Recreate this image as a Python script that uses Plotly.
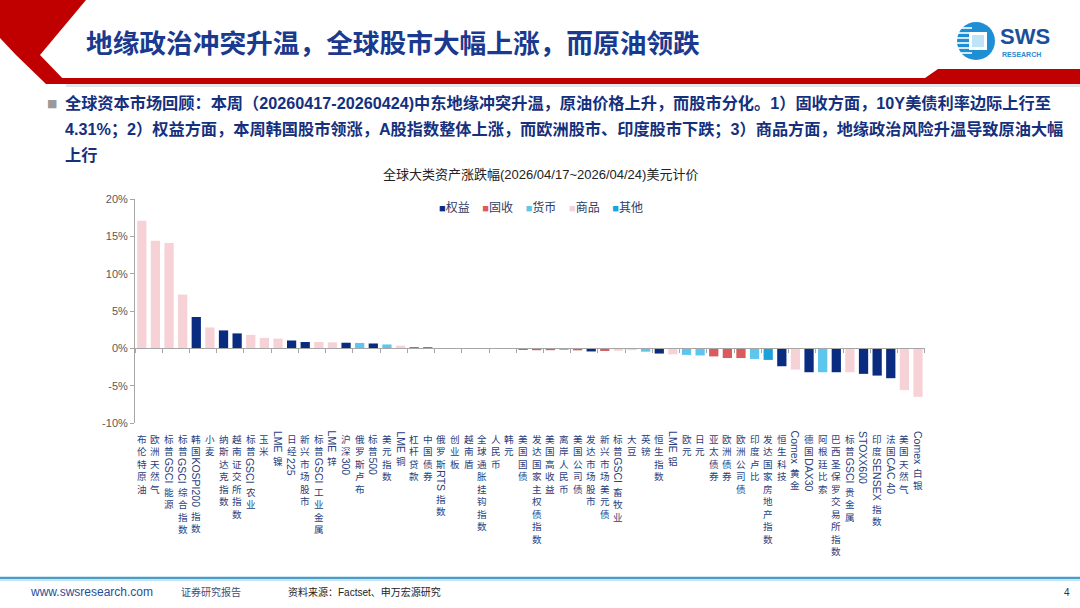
import plotly.graph_objects as go

# ---------------- data ----------------
names = ["布伦特原油", "欧洲天然气", "标普GSCI能源", "标普GSCI综合指数", "韩国KOSPI200指数", "小麦",
         "纳斯达克指数", "越南证交所指数", "标普GSCI农业", "玉米", "LME镍", "日经225", "新兴市场股市",
         "标普GSCI工业金属", "LME锌", "沪深300", "俄罗斯卢布", "标普500", "美元指数", "LME铜", "杠杆贷款",
         "中国债券", "俄罗斯RTS指数", "创业板", "越南盾", "全球通胀挂钩指数", "人民币", "韩元", "美国国债",
         "发达国家主权债指数", "美国高收益", "离岸人民币", "美国公司债", "发达市场股市", "新兴市场美元债",
         "标普GSCI畜牧业", "大豆", "英镑", "恒生指数", "LME铝", "欧元", "日元", "亚太债券", "欧洲债券",
         "欧洲公司债", "印度卢比", "发达国家房地产指数", "恒生科技", "Comex黄金", "德国DAX30", "阿根廷比索",
         "巴西圣保罗交易所指数", "标普GSCI贵金属", "STOXX600", "印度SENSEX指数", "法国CAC 40", "美国天然气",
         "Comex白银"]
values = [17.1, 14.4, 14.1, 7.2, 4.2, 2.8, 2.4, 2.0, 1.8, 1.4, 1.3, 1.05, 0.85, 0.85, 0.8, 0.75, 0.72,
          0.65, 0.52, 0.35, 0.12, 0.1, 0.02, 0.02, 0.01, -0.01, -0.01, -0.02, -0.12, -0.25, -0.25, -0.2,
          -0.27, -0.42, -0.35, -0.33, -0.25, -0.45, -0.7, -0.8, -0.88, -0.95, -1.08, -1.3, -1.3, -1.42,
          -1.55, -2.4, -2.85, -3.2, -3.2, -3.2, -3.2, -3.42, -3.65, -4.0, -5.6, -6.5]
classes = ["商品", "商品", "商品", "商品", "权益", "商品", "权益", "权益", "商品", "商品", "商品", "权益", "权益",
           "商品", "商品", "权益", "货币", "权益", "货币", "商品", "固收", "固收", "权益", "权益", "货币", "固收",
           "货币", "货币", "固收", "固收", "固收", "货币", "固收", "权益", "固收", "商品", "商品", "货币", "权益",
           "商品", "货币", "货币", "固收", "固收", "固收", "货币", "其他", "权益", "商品", "权益", "货币", "权益",
           "商品", "权益", "权益", "权益", "商品", "商品"]
class_names = ["权益", "固收", "货币", "商品", "其他"]
class_colors = ["#0A2C80", "#DA5A5E", "#5CC6EE", "#F6D2D6", "#1CA2DA"]
y_ticks = [-10, -5, 0, 5, 10, 15, 20]
y_tick_labels = ["-10%", "-5%", "0%", "5%", "10%", "15%", "20%"]

title = "地缘政治冲突升温，全球股市大幅上涨，而原油领跌"
body_lines = ["全球资本市场回顾：本周（20260417-20260424)中东地缘冲突升温，原油价格上升，而股市分化。1）固收方面，10Y美债利率边际上行至",
              "4.31%；2）权益方面，本周韩国股市领涨，A股指数整体上涨，而欧洲股市、印度股市下跌；3）商品方面，地缘政治风险升温导致原油大幅",
              "上行"]
chart_title = "全球大类资产涨跌幅(2026/04/17~2026/04/24)美元计价"
footer_url = "www.swsresearch.com"
footer_tag = "证券研究报告"
footer_src = "资料来源：Factset、申万宏源研究"
page_no = "4"

# ---------------- layout geometry ----------------
W, H = 1080, 608
ML, MR, MT, MB = 135, 155, 199, 185
PW, PH = W - ML - MR, H - MT - MB
CJK = "Noto Sans CJK SC"
MIX = "Liberation Sans, Noto Sans CJK SC, sans-serif"

def px(x):
    return (x - ML) / PW

def py(y):
    return (H - MB - y) / PH

color_map = dict(zip(class_names, class_colors))
bar_colors = [color_map[c] for c in classes]

fig = go.Figure()
fig.add_trace(go.Bar(x=names, y=values, marker=dict(color=bar_colors, line=dict(width=0)),
                     width=0.68, showlegend=False))

ymin, ymax = y_ticks[0], y_ticks[-1]
zero_pos = (0 - ymin) / (ymax - ymin)

shapes = []
annotations = []

# ---- x labels: CJK runs stacked upright, Latin runs rotated ----
LATIN_W = {c: .667 for c in "ABEKPSVXY"}
LATIN_W.update({c: .722 for c in "CDHNRU"})
LATIN_W.update({c: .778 for c in "GOQ"})
LATIN_W.update({"F": .611, "T": .611, "Z": .611, "I": .278, "J": .5, "L": .556, "M": .833, "W": .944})
LATIN_W.update({c: .556 for c in "0123456789abdeghnopqu"})
LATIN_W.update({"c": .5, "k": .5, "s": .5, "v": .5, "x": .5, "y": .5, "z": .5, "f": .278, "t": .278,
                "i": .222, "j": .222, "l": .222, "m": .833, "r": .333, "w": .722, " ": .278})
FS = 9.6          # CJK glyph size
LFS = 10.5        # Latin size (rotated)
LINE = 1.3 * FS   # plotly line pitch
CJK_BOX = 1.45 * FS
GAP = 0.3
LBL_COLOR = "#2A3F7E"
for nm in names:
    runs = []
    for ch in nm:
        kind = "L" if ord(ch) < 0x2E80 else "C"
        if runs and runs[-1][0] == kind:
            runs[-1][1] += ch
        else:
            runs.append([kind, ch])
    off = 8.0
    for kind, txt in runs:
        if kind == "C":
            h = (len(txt) - 1) * LINE + CJK_BOX
            annotations.append(dict(x=nm, xref="x", y=0, yref="paper", yshift=-off,
                                    text="<br>".join(txt), showarrow=False, xanchor="center", yanchor="top",
                                    borderpad=0, align="center",
                                    font=dict(family=CJK, size=FS, color=LBL_COLOR)))
        else:
            h = sum(LATIN_W.get(c, .6) for c in txt) * LFS
            annotations.append(dict(x=nm, xref="x", y=0, yref="paper", yshift=-(off - 1),
                                    text=txt, showarrow=False, xanchor="center", yanchor="top",
                                    textangle=90, borderpad=0,
                                    font=dict(family=MIX, size=LFS, color=LBL_COLOR)))
        off += h + GAP

# ---- header ----
shapes.append(dict(type="path", xref="paper", yref="paper", fillcolor="#C00000", line=dict(width=0),
                   path=f"M{px(0)},{py(0)} L{px(86)},{py(0)} L{px(40)},{py(55)} L{px(68)},{py(84)} "
                        f"L{px(46)},{py(84)} L{px(16)},{py(55)} L{px(0)},{py(38)} Z"))
shapes.append(dict(type="path", xref="paper", yref="paper", fillcolor="#C00000", line=dict(width=0),
                   path=f"M{px(60)},{py(78)} L{px(925)},{py(78)} L{px(938)},{py(69)} L{px(1080)},{py(69)} "
                        f"L{px(1080)},{py(84)} L{px(66)},{py(84)} Z"))
shapes.append(dict(type="rect", xref="paper", yref="paper", x0=px(66), x1=px(1080), y0=py(84), y1=py(87),
                   fillcolor="#E6E6E6", line=dict(width=0)))
annotations.append(dict(x=px(84), y=py(41), xref="paper", yref="paper", text=f"<b>{title}</b>",
                        showarrow=False, xanchor="left", yanchor="middle",
                        font=dict(family=CJK, size=26.7, color="#1A3A8F")))

# logo
shapes.append(dict(type="circle", xref="paper", yref="paper", x0=px(957), x1=px(995), y0=py(22), y1=py(60),
                   fillcolor="#1E8FD5", line=dict(width=0)))
for yy in [28, 33, 38, 43, 48, 53]:
    shapes.append(dict(type="line", xref="paper", yref="paper", x0=px(957), x1=px(972), y0=py(yy), y1=py(yy),
                       line=dict(color="white", width=1.6)))
shapes.append(dict(type="rect", xref="paper", yref="paper", x0=px(969), x1=px(987), y0=py(32), y1=py(50),
                   fillcolor="white", line=dict(width=0)))
shapes.append(dict(type="rect", xref="paper", yref="paper", x0=px(972), x1=px(984), y0=py(35), y1=py(47),
                   fillcolor="#BFE3F7", line=dict(width=0)))
annotations.append(dict(x=px(999), y=py(37), xref="paper", yref="paper", text="<b>SWS</b>",
                        showarrow=False, xanchor="left", yanchor="middle", borderpad=0,
                        font=dict(family="Liberation Sans", size=22, color="#1B4F9C")))
annotations.append(dict(x=px(1001), y=py(54), xref="paper", yref="paper", text="<b>RESEARCH</b>",
                        showarrow=False, xanchor="left", yanchor="middle", borderpad=0,
                        font=dict(family="Liberation Sans", size=7, color="#2A8AD0")))

# bullet text
annotations.append(dict(x=px(45), y=py(103), xref="paper", yref="paper", text="■", showarrow=False,
                        xanchor="left", yanchor="middle", font=dict(family="DejaVu Sans", size=11, color="#9A9A9A")))
for i, ln in enumerate(body_lines):
    annotations.append(dict(x=px(63), y=py(103 + 26 * i), xref="paper", yref="paper", text=f"<b>{ln}</b>",
                            showarrow=False, xanchor="left", yanchor="middle",
                            font=dict(family=MIX, size=16.2, color="#15307C")))

# chart title
annotations.append(dict(x=px(540), y=py(174), xref="paper", yref="paper", text=chart_title, showarrow=False,
                        xanchor="center", yanchor="middle", font=dict(family=MIX, size=13, color="#222222")))

# legend (custom, from class arrays)
leg = "  &#8194;".join(f"<span style='color:{c};font-size:11px'>■</span>{n}" for n, c in zip(class_names, class_colors))
annotations.append(dict(x=px(541), y=py(207), xref="paper", yref="paper", text=leg, showarrow=False,
                        xanchor="center", yanchor="middle", font=dict(family=MIX, size=12, color="#2E3D66")))

# footer
shapes.append(dict(type="line", xref="paper", yref="paper", x0=px(0), x1=px(1080), y0=py(578), y1=py(578),
                   line=dict(color="#4B9DC8", width=2.5)))
shapes.append(dict(type="line", xref="paper", yref="paper", x0=px(0), x1=px(1080), y0=py(580.5), y1=py(580.5),
                   line=dict(color="#BFE0F0", width=1)))
annotations.append(dict(x=px(28), y=py(592), xref="paper", yref="paper", text=footer_url, showarrow=False,
                        xanchor="left", yanchor="middle", font=dict(family=MIX, size=12, color="#1F4E9A")))
annotations.append(dict(x=px(179), y=py(591), xref="paper", yref="paper", text=footer_tag, showarrow=False,
                        xanchor="left", yanchor="middle", font=dict(family=CJK, size=10, color="#3B4F7A")))
annotations.append(dict(x=px(286), y=py(592), xref="paper", yref="paper", text=footer_src, showarrow=False,
                        xanchor="left", yanchor="middle", font=dict(family=MIX, size=10, color="#222222")))
annotations.append(dict(x=px(1072), y=py(592), xref="paper", yref="paper", text=page_no, showarrow=False,
                        xanchor="right", yanchor="middle", font=dict(family=MIX, size=10, color="#333333")))

fig.update_layout(
    width=W, height=H,
    margin=dict(l=ML, r=MR, t=MT, b=MB, pad=0),
    paper_bgcolor="white", plot_bgcolor="white",
    bargap=0.3,
    shapes=shapes, annotations=annotations,
    xaxis=dict(type="category", categoryorder="array", categoryarray=names,
               showticklabels=False, showgrid=False, zeroline=False,
               showline=True, linecolor="#A6A6A6", linewidth=1,
               anchor="free", position=zero_pos,
               ticks="outside", tickson="boundaries", ticklen=4, tickcolor="#A6A6A6"),
    yaxis=dict(range=[ymin, ymax], tickvals=y_ticks, ticktext=y_tick_labels, showgrid=False, zeroline=False,
               showline=True, linecolor="#A6A6A6", linewidth=1, ticks="outside", ticklen=4,
               tickcolor="#A6A6A6", tickfont=dict(family=MIX, size=11, color="#595959")),
    font=dict(family=MIX),
)

fig.write_html("out.html", config={"displayModeBar": False},
               post_script="document.body.style.margin='0';document.body.style.overflow='hidden';")
